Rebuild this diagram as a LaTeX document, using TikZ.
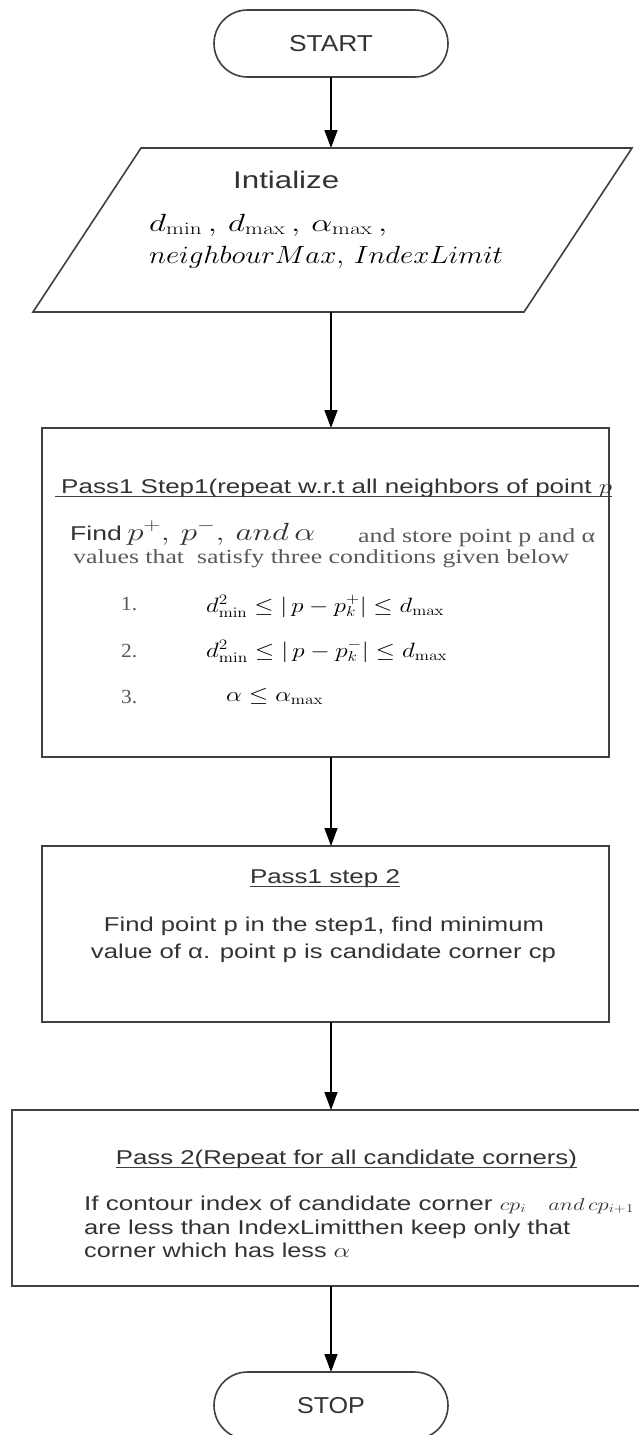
\documentclass[tikz,border=0pt]{standalone}
\usepackage[no-math]{fontspec}
\setmainfont{Liberation Sans}
\newfontfamily\serifrm{Liberation Serif}
\usepackage{graphicx}
\usetikzlibrary{arrows.meta}
\newcommand{\fitw}[2]{\resizebox{#1}{\height}{#2}}
\begin{document}
\begin{tikzpicture}[x=1pt,y=-1pt,
  shapeline/.style={draw=black!75, line width=1.6pt},
  termst/.style={shapeline, rounded corners=33.5pt, minimum width=234pt, minimum height=67pt, inner sep=0pt, outer sep=0pt, text=black!80, font=\fontsize{23}{27}\selectfont},
  boxst/.style={shapeline, inner sep=0pt, outer sep=0pt},
  ghost/.style={inner sep=0pt, outer sep=0pt},
  arr/.style={draw=black, line width=1.4pt, -{Triangle[length=18pt,width=13pt]}},
  tx/.style={inner sep=0pt, text=black!80, font=\fontsize{20}{24}\selectfont},
  sr/.style={inner sep=0pt, text=black!65, font=\serifrm\fontsize{20}{24}\selectfont},
  mt/.style={inner sep=0pt, text=black, font=\fontsize{21}{25}\selectfont},
  ul/.style={draw=black!75, line width=1pt}
]
\fill[white] (0,0) rectangle (639,1435);
\useasboundingbox (0,0) rectangle (639,1435);

% START
\node[termst] (start) at (331,43.5) {\fitw{84pt}{START}};

% Initialize parallelogram
\node[ghost, minimum width=380pt, minimum height=164pt] (init) at (331,230) {};
\draw[shapeline, line join=miter] (141,148) -- (632,148) -- (524,312) -- (33,312) -- cycle;
\node[tx, anchor=base west, font=\fontsize{24}{28}\selectfont] (inittitle) at (233,188) {\fitw{106pt}{Intialize}};
\node[mt, anchor=base west, font=\fontsize{23}{27}\selectfont] (m1) at (149,231) {\fitw{238pt}{$d_{\min}\,,\,d_{\max}\,,\,\alpha_{\max}\,,$}};
\node[mt, anchor=base west, font=\fontsize{23}{27}\selectfont] (m2) at (149,263) {\fitw{354pt}{$neighbourMax,\,IndexLimit$}};

% Box 1
\node[boxst, minimum width=567pt, minimum height=329pt] (box1) at (325.5,592.5) {};
\node[tx, anchor=base west] (t1) at (61,493) {\fitw{551pt}{Pass1 Step1(repeat w.r.t all neighbors of point $p$}};
\draw[ul] ([xshift=-6pt,yshift=-3pt]t1.base west) -- ([yshift=-3pt]t1.base east);
\node[tx, anchor=base west] (f1) at (70,540) {\fitw{245pt}{Find{\fontsize{26}{30}\selectfont$\,p^{+},\,p^{-},\,and\,\alpha$}}};
\node[sr, anchor=base west] (f2) at (358,542) {\fitw{237pt}{and store point p and α}};
\node[sr, anchor=base west] (f3) at (73,563) {\fitw{496pt}{values that~ satisfy three conditions given below}};
\node[sr, anchor=base west] (n1) at (121,610) {\fitw{16pt}{1.}};
\node[mt, anchor=base west] (c1) at (206,612) {\fitw{238pt}{$d^{2}_{\min}\le|\,p-p^{+}_{k}|\le d_{\max}$}};
\node[sr, anchor=base west] (n2) at (121,657) {\fitw{16pt}{2.}};
\node[mt, anchor=base west] (c2) at (206,657) {\fitw{241pt}{$d^{2}_{\min}\le|\,p-p^{-}_{k}|\le d_{\max}$}};
\node[sr, anchor=base west] (n3) at (121,703) {\fitw{16pt}{3.}};
\node[mt, anchor=base west] (c3) at (226,701) {\fitw{97pt}{$\alpha\le\alpha_{\max}$}};

% Box 2
\node[boxst, minimum width=567pt, minimum height=176pt] (box2) at (325.5,934) {};
\node[tx, anchor=base] (t2) at (325,883) {\fitw{150pt}{Pass1 step 2}};
\draw[ul] ([yshift=-3pt]t2.base west) -- ([yshift=-3pt]t2.base east);
\node[tx, anchor=base] (b2a) at (324,931) {\fitw{440pt}{Find point p in the step1, find minimum}};
\node[tx, anchor=base] (b2b) at (323.5,958) {\fitw{465pt}{value of α. point p is candidate corner cp}};

% Box 3
\node[boxst, minimum width=640pt, minimum height=176pt] (box3) at (332,1198) {};
\node[tx, anchor=base] (t3) at (346.5,1164) {\fitw{461pt}{Pass 2(Repeat for all candidate corners)}};
\draw[ul] ([yshift=-3pt]t3.base west) -- ([yshift=-3pt]t3.base east);
\node[tx, anchor=base west] (b3a) at (84,1210) {\fitw{550pt}{If contour index of candidate corner {\fontsize{17}{20}\selectfont$cp_{i}$\quad$and\,cp_{i+1}$}}};
\node[tx, anchor=base west] (b3b) at (84,1234) {\fitw{486pt}{are less than IndexLimitthen keep only that}};
\node[tx, anchor=base west] (b3c) at (84,1257) {\fitw{266pt}{corner which has less $\alpha$}};

% STOP
\node[termst] (stop) at (331,1405.5) {\fitw{68pt}{STOP}};

% connectors
\draw[arr] (start.south) -- (init.north);
\draw[arr] (init.south) -- (init.south |- box1.north);
\draw[arr] (init.south |- box1.south) -- (init.south |- box2.north);
\draw[arr] (init.south |- box2.south) -- (init.south |- box3.north);
\draw[arr] (init.south |- box3.south) -- (stop.north);
\end{tikzpicture}
\end{document}
